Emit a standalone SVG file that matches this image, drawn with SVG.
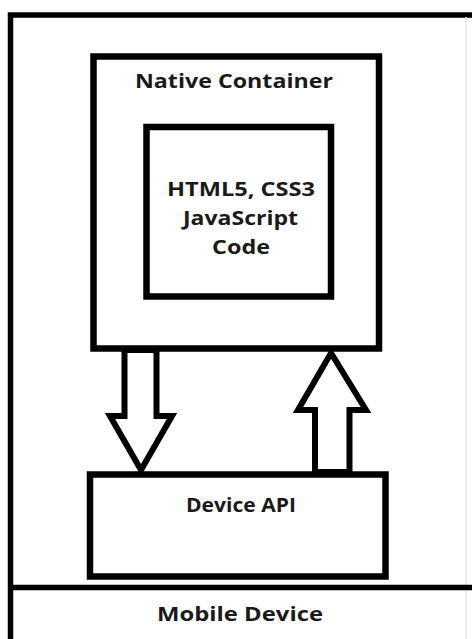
<svg xmlns="http://www.w3.org/2000/svg" width="472" height="639" viewBox="0 0 472 639">
<style>
.box{fill:none;stroke:#000;stroke-width:6.5}
.arrow{fill:#fff;stroke:#000;stroke-width:6;stroke-linejoin:miter}
.t{font-family:"Open Sans","Liberation Sans",sans-serif;font-weight:bold;font-size:20px;fill:#1a1a1a;text-anchor:middle}
</style>
<rect width="472" height="639" fill="#fff"/>
<g id="mobile-device">
<path d="M10.5 639 V15 H472" fill="none" stroke="#000" stroke-width="5.5"/>
<line x1="466" y1="17" x2="466" y2="639" stroke="#e4e4e4" stroke-width="1.5"/>
<line x1="10" y1="587.5" x2="472" y2="587.5" stroke="#000" stroke-width="5.5"/>
<text class="t" x="240" y="621" textLength="166" lengthAdjust="spacingAndGlyphs">Mobile Device</text>
</g>
<g id="native-container">
<rect class="box" x="93.5" y="56.5" width="285.5" height="292"/>
<text class="t" x="234" y="88" textLength="198" lengthAdjust="spacingAndGlyphs">Native Container</text>
</g>
<g id="code">
<rect class="box" x="146.5" y="127" width="184.5" height="169.5"/>
<text class="t" x="241" y="196" textLength="148" lengthAdjust="spacingAndGlyphs">HTML5, CSS3</text>
<text class="t" x="240.5" y="225" textLength="115" lengthAdjust="spacingAndGlyphs">JavaScript</text>
<text class="t" x="241" y="254" textLength="58" lengthAdjust="spacingAndGlyphs">Code</text>
</g>
<g id="device-api">
<rect class="box" x="90" y="474.5" width="295.5" height="102"/>
<text class="t" x="241" y="512" textLength="110" lengthAdjust="spacingAndGlyphs">Device API</text>
</g>
<g id="connectors">
<polygon class="arrow" points="124.5,350 156.5,350 156.5,416 172,416 141,470 110,416 124.5,416"/>
<polygon class="arrow" points="331,353 366,410 349.5,410 349.5,472 315,472 315,410 298,410"/>
</g>
</svg>
